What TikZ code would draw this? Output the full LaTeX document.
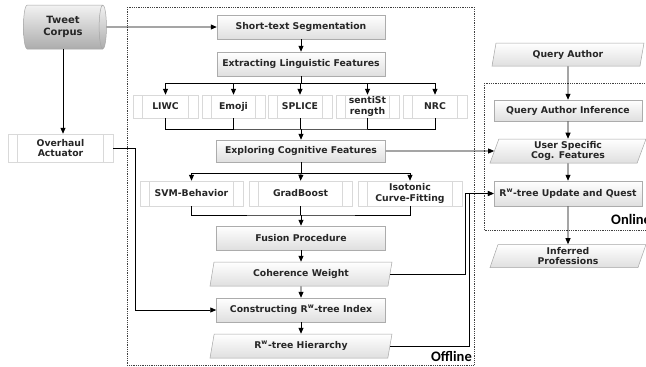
\documentclass[tikz,border=0pt]{standalone}
\usepackage{fontspec}
\setmainfont{DejaVu Sans}
\newfontfamily\labfont{Carlito}
\usetikzlibrary{shapes.geometric,arrows.meta,calc}
\tikzset{
  txt/.style={font=\bfseries\fontsize{9.3}{10.8}\selectfont, text=black!85, align=center, inner sep=0pt},
  gbox/.style={txt, rectangle, draw=gray!65, line width=0.5pt, top color=white, bottom color=gray!25},
  para/.style={txt, trapezium, trapezium left angle=66, trapezium right angle=114,
     trapezium stretches body, draw=gray!70, line width=0.5pt, top color=white, bottom color=gray!25},
  pbox/.style={txt, rectangle, draw=gray!30, line width=0.5pt, fill=white,
     path picture={
       \draw[gray!30, line width=0.5pt]
         ([xshift=9.5pt]path picture bounding box.north west) -- ([xshift=9.5pt]path picture bounding box.south west)
         ([xshift=-9.5pt]path picture bounding box.north east) -- ([xshift=-9.5pt]path picture bounding box.south east);}},
  cyl/.style={txt, cylinder, aspect=0.35, draw=gray!70, line width=0.5pt,
     top color=gray!10, bottom color=gray!65, font=\bfseries\fontsize{10}{11.5}\selectfont},
  arr/.style={line width=0.8pt, -{Triangle[length=6pt,width=5pt]}},
  ln/.style={line width=0.8pt},
  dotbox/.style={line width=0.8pt, black!75, dash pattern=on 0.8pt off 1.0pt},
  zonelab/.style={font=\labfont\bfseries\fontsize{14.5}{16}\selectfont, inner sep=0pt}
}
\begin{document}
\begin{tikzpicture}[x=1pt, y=-1pt]
\useasboundingbox (0,0) rectangle (646,367);

% zones
\draw[dotbox] (127,7) rectangle (474,365);
\draw[dotbox] (484,83) rectangle (700,230);
\node[zonelab, anchor=base east] (offl) at (472,361) {Offline};
\node[zonelab, anchor=base west] (onl) at (611,224) {Online};

% left
\node[cyl, minimum width=44pt, minimum height=83pt] (corpus) at (63,27) {Tweet\\Corpus};
\node[pbox, minimum width=105pt, minimum height=28pt] (overhaul) at (60.5,148) {Overhaul\\Actuator};

% offline column
\node[gbox, minimum width=168pt, minimum height=24pt] (seg) at (301,27) {Short-text Segmentation};
\node[gbox, minimum width=168pt, minimum height=24pt] (ext) at (301,64) {Extracting Linguistic Features};

\node[pbox, minimum width=65pt, minimum height=23pt] (liwc) at (165.5,106.5) {LIWC};
\node[pbox, minimum width=63pt, minimum height=23pt] (emoji) at (233.5,106.5) {Emoji};
\node[pbox, minimum width=64pt, minimum height=23pt] (splice) at (300,106.5) {SPLICE};
\node[pbox, minimum width=63pt, minimum height=23pt] (senti) at (367.5,106.5) {sentiSt\\rength};
\node[pbox, minimum width=64pt, minimum height=23pt] (nrc) at (435,106.5) {NRC};

\node[gbox, minimum width=169pt, minimum height=22pt] (explore) at (301,151) {Exploring Cognitive Features};

\node[pbox, minimum width=103pt, minimum height=25pt] (svm) at (191.5,193.5) {SVM-Behavior};
\node[pbox, minimum width=103pt, minimum height=25pt] (grad) at (300.5,193.5) {GradBoost};
\node[pbox, minimum width=104pt, minimum height=25pt] (iso) at (410,193.5) {Isotonic\\Curve-Fitting};

\node[gbox, minimum width=169pt, minimum height=24pt] (fusion) at (301,238) {Fusion Procedure};
\node[para, minimum width=182pt, minimum height=24pt] (coh) at (301,274) {Coherence Weight};
\node[gbox, minimum width=169pt, minimum height=24pt] (constr) at (301,310) {Constructing R\textsuperscript{w}-tree Index};
\node[para, minimum width=182pt, minimum height=24pt] (hier) at (301,346) {R\textsuperscript{w}-tree Hierarchy};

% online column
\node[para, minimum width=152pt, minimum height=23pt] (query) at (568,54.5) {Query Author};
\node[gbox, minimum width=148pt, minimum height=21pt] (qinf) at (568,110.5) {Query Author Inference};
\node[para, minimum width=156pt, minimum height=24pt] (user) at (568,151) {User Specific\\Cog. Features};
\node[gbox, minimum width=148pt, minimum height=25pt] (update) at (568,193.5) {R\textsuperscript{w}-tree Update and Quest};
\node[para, minimum width=156pt, minimum height=23pt] (inferred) at (568,256) {Inferred\\Professions};

% junction coordinates
\coordinate (b1) at (301,83);
\coordinate (m1) at (301,129);
\coordinate (b2) at (301,173);
\coordinate (m2) at (301,215);
\coordinate (jA) at (465,0);
\coordinate (jB) at (469,0);

% connectors
\draw[arr] (corpus.east) -- (seg.west);
\draw[arr] (corpus.south) -- (corpus.south |- overhaul.north);
\draw[arr] (seg) -- (ext);
\draw[ln] (ext.south) -- (b1);
\draw[arr] (b1) -| (liwc.north);
\draw[arr] (b1) -| (emoji.north);
\draw[arr] (b1) -- (splice.north |- b1) -- (splice.north);
\draw[arr] (b1) -| (senti.north);
\draw[arr] (b1) -| (nrc.north);
\draw[ln] (liwc.south) |- (m1) -| (nrc.south);
\draw[ln] (emoji.south) -- (emoji.south |- m1);
\draw[ln] (splice.south) -- (splice.south |- m1);
\draw[ln] (senti.south) -- (senti.south |- m1);
\draw[arr] (m1) -- (explore.north);
\draw[ln] (explore.south) -- (b2);
\draw[arr] (b2) -| (svm.north);
\draw[arr] (b2) -- (grad.north);
\draw[arr] (b2) -| (iso.north);
\draw[ln] (svm.south) |- (m2) -| (iso.south);
\draw[ln] (grad.south) -- (grad.south |- m2);
\draw[arr] (m2) -- (fusion.north);
\draw[arr] (fusion) -- (coh);
\draw[arr] (coh) -- (constr);
\draw[arr] (constr) -- (hier);
\draw[arr] (overhaul.east) -- ++(22,0) |- (constr.west);

\draw[arr] (explore.east) -- (user.west);
\draw[arr] (coh.east) -| (jA |- update.west) -- (update.west);
\draw[arr] (hier.east) -| (jB |- update.west) -- (update.west);

\draw[arr] (query) -- (qinf);
\draw[arr] (qinf) -- (user);
\draw[arr] (user) -- (update);
\draw[arr] (update) -- (inferred);
\end{tikzpicture}
\end{document}
